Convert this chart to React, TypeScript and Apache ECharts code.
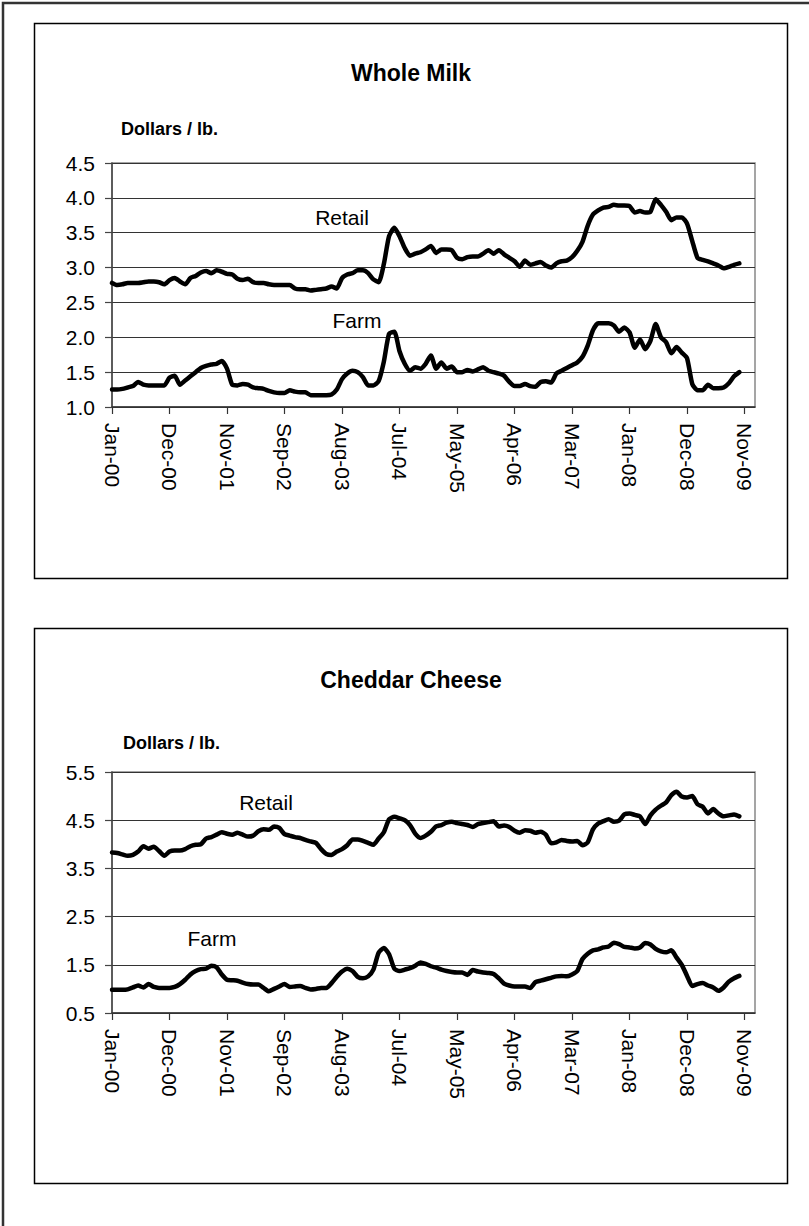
import React, { useEffect, useRef } from "react";
import * as echarts from "echarts";

const tickLabels = ["Jan-00", "Dec-00", "Nov-01", "Sep-02", "Aug-03", "Jul-04", "May-05", "Apr-06", "Mar-07", "Jan-08", "Dec-08", "Nov-09"];
const categoryCount = 124;
const categories = Array.from({ length: categoryCount }, (_, i) =>
  i % 11 === 0 && tickLabels[i / 11] ? tickLabels[i / 11] : "m" + i
);

const milkRetail = [
  2.78, 2.75, 2.76, 2.78, 2.78, 2.78, 2.79, 2.80, 2.80, 2.79,
  2.76, 2.82, 2.85, 2.80, 2.76, 2.85, 2.88, 2.93, 2.95, 2.92,
  2.96, 2.94, 2.91, 2.90, 2.84, 2.82, 2.84, 2.79, 2.78, 2.78,
  2.76, 2.75, 2.75, 2.75, 2.75, 2.70, 2.69, 2.69, 2.67, 2.68,
  2.69, 2.70, 2.73, 2.70, 2.85, 2.90, 2.92, 2.96, 2.96, 2.92,
  2.83, 2.79, 3.05, 3.45, 3.57, 3.45, 3.28, 3.17, 3.20, 3.22,
  3.26, 3.31, 3.21, 3.26, 3.26, 3.25, 3.14, 3.12, 3.15, 3.16,
  3.16, 3.20, 3.25, 3.20, 3.25, 3.19, 3.14, 3.09, 3.01, 3.10,
  3.04, 3.06, 3.08, 3.03, 3.00, 3.06, 3.09, 3.10, 3.15, 3.24,
  3.37, 3.60, 3.76, 3.82, 3.86, 3.87, 3.90, 3.89, 3.89, 3.88,
  3.79, 3.81, 3.79, 3.80, 3.98, 3.90, 3.80, 3.68, 3.72, 3.72,
  3.63, 3.38, 3.14, 3.11, 3.09, 3.06, 3.03, 2.99, 3.01, 3.04,
  3.06,
];

const milkFarm = [
  1.25, 1.25, 1.26, 1.28, 1.30, 1.36, 1.32, 1.31, 1.31, 1.31,
  1.31, 1.42, 1.45, 1.32, 1.38, 1.44, 1.50, 1.56, 1.59, 1.61,
  1.62, 1.66, 1.55, 1.32, 1.31, 1.33, 1.32, 1.28, 1.27, 1.26,
  1.23, 1.21, 1.20, 1.20, 1.24, 1.22, 1.21, 1.21, 1.17, 1.17,
  1.17, 1.17, 1.18, 1.25, 1.40, 1.48, 1.52, 1.50, 1.43, 1.31,
  1.31, 1.37, 1.65, 2.05, 2.08, 1.80, 1.62, 1.52, 1.57, 1.55,
  1.62, 1.74, 1.55, 1.64, 1.55, 1.58, 1.50, 1.50, 1.53, 1.51,
  1.54, 1.57, 1.52, 1.50, 1.48, 1.45, 1.36, 1.30, 1.30, 1.33,
  1.30, 1.29, 1.36, 1.37, 1.35, 1.48, 1.52, 1.56, 1.60, 1.64,
  1.72, 1.88, 2.10, 2.20, 2.20, 2.20, 2.17, 2.08, 2.14, 2.07,
  1.85, 1.97, 1.83, 1.95, 2.19, 2.00, 1.93, 1.77, 1.86, 1.78,
  1.70, 1.33, 1.24, 1.24, 1.32, 1.27, 1.27, 1.28, 1.34, 1.44,
  1.50,
];

const cheeseRetail = [
  3.83, 3.82, 3.79, 3.76, 3.78, 3.85, 3.96, 3.91, 3.95, 3.86,
  3.76, 3.85, 3.87, 3.87, 3.90, 3.96, 3.99, 4.00, 4.12, 4.15,
  4.20, 4.25, 4.22, 4.20, 4.24, 4.20, 4.16, 4.18, 4.27, 4.31,
  4.30, 4.37, 4.34, 4.21, 4.18, 4.15, 4.13, 4.09, 4.06, 4.03,
  3.90, 3.80, 3.78, 3.85, 3.90, 3.98, 4.10, 4.10, 4.07, 4.03,
  3.99, 4.12, 4.25, 4.52, 4.57, 4.54, 4.50, 4.40, 4.22, 4.13,
  4.18, 4.26, 4.37, 4.40, 4.45, 4.47, 4.44, 4.42, 4.40, 4.36,
  4.42, 4.44, 4.46, 4.48, 4.37, 4.39, 4.36, 4.28, 4.24, 4.29,
  4.28, 4.24, 4.26, 4.20, 4.02, 4.04, 4.09, 4.07, 4.06, 4.07,
  3.98, 4.04, 4.31, 4.43, 4.48, 4.52, 4.47, 4.49, 4.62, 4.64,
  4.61, 4.58, 4.42, 4.60, 4.72, 4.80, 4.87, 5.02, 5.09, 4.99,
  4.97, 5.00, 4.83, 4.78, 4.64, 4.73, 4.64, 4.58, 4.60, 4.62,
  4.58,
];

const cheeseFarm = [
  0.98, 0.98, 0.98, 0.99, 1.03, 1.07, 1.03, 1.10, 1.04, 1.02,
  1.02, 1.02, 1.04, 1.10, 1.19, 1.30, 1.37, 1.41, 1.42, 1.48,
  1.45, 1.30, 1.19, 1.18, 1.17, 1.13, 1.10, 1.09, 1.09, 1.02,
  0.95, 1.00, 1.05, 1.10, 1.04, 1.05, 1.06, 1.02, 0.99, 1.00,
  1.02, 1.02, 1.12, 1.25, 1.36, 1.42, 1.37, 1.25, 1.22, 1.26,
  1.40, 1.75, 1.85, 1.72, 1.42, 1.37, 1.40, 1.43, 1.48, 1.55,
  1.52, 1.47, 1.44, 1.40, 1.37, 1.35, 1.34, 1.34, 1.29, 1.39,
  1.36, 1.34, 1.33, 1.31, 1.22, 1.11, 1.07, 1.05, 1.05, 1.05,
  1.02, 1.14, 1.17, 1.20, 1.23, 1.26, 1.27, 1.26, 1.30, 1.37,
  1.62, 1.73, 1.80, 1.82, 1.86, 1.88, 1.96, 1.93, 1.87, 1.86,
  1.84, 1.86, 1.95, 1.92, 1.83, 1.78, 1.76, 1.80, 1.65, 1.50,
  1.27, 1.06, 1.10, 1.12, 1.07, 1.03, 0.96, 1.03, 1.15, 1.22,
  1.27,
];

const milkTicks = [1.0, 1.5, 2.0, 2.5, 3.0, 3.5, 4.0, 4.5];
const cheeseTicks = [0.5, 1.5, 2.5, 3.5, 4.5, 5.5];

const FONT = "'Liberation Sans', Arial, sans-serif";

export default function App() {
  const ref = useRef<HTMLDivElement>(null);

  useEffect(() => {
    if (!ref.current) return;
    const chart = echarts.init(ref.current, null, { renderer: "svg" });

    const xAxisBase = (gridIndex: number) => ({
      type: "category",
      gridIndex,
      data: categories,
      boundaryGap: false,
      axisLine: { show: true, lineStyle: { color: "#333", width: 1.5 } },
      axisTick: { show: true, interval: 10, length: 7, inside: false, lineStyle: { color: "#333", width: 1.2 } },
      axisLabel: {
        interval: 10,
        rotate: -90,
        margin: 16,
        fontSize: 21,
        fontFamily: FONT,
        color: "#000",
        formatter: (v: string) => (tickLabels.includes(v) ? v : ""),
      },
      splitLine: { show: false },
    });

    const yAxisBase = (gridIndex: number, min: number, max: number, ticks: number[]) => ({
      type: "value",
      gridIndex,
      min,
      max,
      interval: 0.5,
      axisLine: { show: true, lineStyle: { color: "#444", width: 1.5 } },
      axisTick: { show: true, length: 7, customValues: ticks, lineStyle: { color: "#444", width: 1.2 } },
      axisLabel: {
        customValues: ticks,
        margin: 17,
        fontSize: 21,
        fontFamily: FONT,
        color: "#000",
        formatter: (v: number) => v.toFixed(1),
      },
      splitLine: { show: true, lineStyle: { color: "#333", width: 1 } },
    });

    const lineSeries = (data: number[], idx: number) => ({
      type: "line",
      xAxisIndex: idx,
      yAxisIndex: idx,
      data,
      showSymbol: false,
      symbol: "none",
      smooth: 0.2,
      lineStyle: { color: "#000", width: 4.5, cap: "round", join: "round" },
      z: 5,
    });

    const txt = (text: string, x: number, y: number, size: number, bold: boolean, align = "left") => ({
      type: "text",
      x,
      y,
      style: {
        text,
        fontSize: size,
        fontWeight: bold ? "bold" : "normal",
        fontFamily: FONT,
        fill: "#000",
        textAlign: align,
        textVerticalAlign: "middle",
      },
    });

    chart.setOption({
      animation: false,
      backgroundColor: "#fff",
      grid: [
        { left: 112, top: 163, width: 643, height: 244, show: true, borderColor: "#888", borderWidth: 1.5, backgroundColor: "transparent" },
        { left: 112, top: 772, width: 643, height: 241, show: true, borderColor: "#888", borderWidth: 1.5, backgroundColor: "transparent" },
      ],
      xAxis: [xAxisBase(0), xAxisBase(1)],
      yAxis: [yAxisBase(0, 1.0, 4.5, milkTicks), yAxisBase(1, 0.5, 5.5, cheeseTicks)],
      series: [
        lineSeries(milkRetail, 0),
        lineSeries(milkFarm, 0),
        lineSeries(cheeseRetail, 1),
        lineSeries(cheeseFarm, 1),
      ],
      graphic: [
        { type: "rect", shape: { x: 3, y: 3, width: 830, height: 1250 }, style: { fill: "none", stroke: "#333", lineWidth: 2.5 }, silent: true },
        { type: "rect", shape: { x: 34.5, y: 23.5, width: 753, height: 555 }, style: { fill: "none", stroke: "#000", lineWidth: 1.5 }, silent: true },
        { type: "rect", shape: { x: 34.5, y: 628.5, width: 753, height: 555 }, style: { fill: "none", stroke: "#000", lineWidth: 1.5 }, silent: true },
        txt("Whole Milk", 411, 73, 23, true, "center"),
        txt("Dollars / lb.", 121, 129, 18, true),
        txt("Retail", 342, 217, 21, false, "center"),
        txt("Farm", 357, 320, 21, false, "center"),
        txt("Cheddar Cheese", 411, 680, 23, true, "center"),
        txt("Dollars / lb.", 123, 743, 18, true),
        txt("Retail", 266, 802, 21, false, "center"),
        txt("Farm", 212, 938, 21, false, "center"),
      ],
    });

    return () => chart.dispose();
  }, []);

  return (
    <div
      ref={ref}
      style={{ position: "absolute", left: 0, top: 0, width: 809, height: 1226, background: "#fff" }}
    />
  );
}
